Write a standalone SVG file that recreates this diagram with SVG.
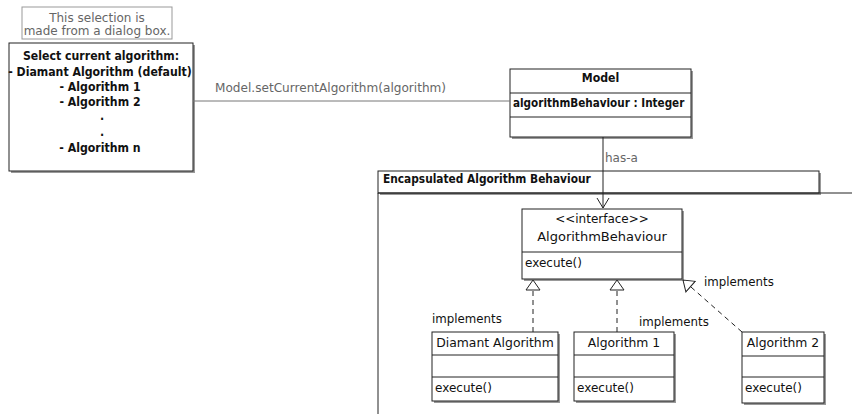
<svg xmlns="http://www.w3.org/2000/svg" width="852" height="414" viewBox="0 0 852 414">
<style>
text{font-family:"DejaVu Sans","Liberation Sans",sans-serif;fill:#111}
.b{font-family:"DejaVu Sans Condensed","DejaVu Sans",sans-serif;font-weight:bold;font-size:12.2px}
.r{font-size:12px}
.g{fill:#666;font-size:12px}
.box{fill:#fff;stroke:#222;stroke-width:1}
.sh{fill:#999}
.ln{stroke:#222;stroke-width:1;fill:none}
.dash{stroke:#222;stroke-width:1;fill:none;stroke-dasharray:5,4}
.c{text-anchor:middle}
</style>
<defs>
<marker id="tri" markerUnits="userSpaceOnUse" markerWidth="14" markerHeight="16" refX="11" refY="8" orient="auto" viewBox="0 0 14 16">
<path d="M1,1 L11,8 L1,15 z" fill="#fff" stroke="#222" stroke-width="1"/>
</marker>
<marker id="open" markerUnits="userSpaceOnUse" markerWidth="12" markerHeight="14" refX="11" refY="7" orient="auto" viewBox="0 0 12 14">
<path d="M1,1 L11,7 L1,13" fill="none" stroke="#222" stroke-width="1"/>
</marker>
</defs>

<g id="note">
<rect x="22" y="7" width="150" height="32" fill="#fff" stroke="#999"/>
<text class="g c" x="97" y="22">This selection is</text>
<text class="g c" x="97" y="35">made from a dialog box.</text>
</g>

<g id="select">
<rect class="sh" x="11" y="45" width="184" height="128"/>
<rect class="box" x="9" y="43" width="184" height="128"/>
<text class="b c" x="101" y="60">Select current algorithm:</text>
<text class="b c" x="100" y="76">- Diamant Algorithm (default)</text>
<text class="b c" x="100" y="91">- Algorithm 1</text>
<text class="b c" x="100" y="106">- Algorithm 2</text>
<text class="b c" x="102" y="120">.</text>
<text class="b c" x="102" y="136">.</text>
<text class="b c" x="100" y="152">- Algorithm n</text>
</g>

<g id="model">
<rect class="sh" x="512" y="71" width="181" height="68"/>
<rect class="box" x="510" y="69" width="181" height="68"/>
<line class="ln" x1="510" y1="93" x2="691" y2="93"/>
<line class="ln" x1="510" y1="117" x2="691" y2="117"/>
<text class="b c" x="600.5" y="82">Model</text>
<text class="b" x="513" y="107" style="font-size:11.6px">algorithmBehaviour : Integer</text>
</g>

<g id="package">
<rect class="sh" x="380" y="173" width="441" height="22"/>
<rect class="box" x="378" y="171" width="441" height="22"/>
<line class="ln" x1="378" y1="193" x2="852" y2="193"/>
<line class="ln" x1="378" y1="193" x2="378" y2="414"/>
<text class="b" x="383" y="183" style="font-size:11.8px">Encapsulated Algorithm Behaviour</text>
</g>

<g id="interface">
<rect class="sh" x="524" y="211" width="160" height="70"/>
<rect class="box" x="522" y="209" width="160" height="70"/>
<line class="ln" x1="522" y1="252" x2="682" y2="252"/>
<text class="r c" x="602" y="223">&lt;&lt;interface&gt;&gt;</text>
<text class="r c" x="602" y="241" style="font-size:13px">AlgorithmBehaviour</text>
<text class="r" x="525" y="267">execute()</text>
</g>

<g id="diamant">
<rect class="sh" x="434" y="334" width="126" height="69"/>
<rect class="box" x="432" y="332" width="126" height="69"/>
<line class="ln" x1="432" y1="355" x2="558" y2="355"/>
<line class="ln" x1="432" y1="377" x2="558" y2="377"/>
<text class="r c" x="495" y="347" style="font-size:12.4px">Diamant Algorithm</text>
<text class="r" x="435" y="392">execute()</text>
</g>

<g id="alg1">
<rect class="sh" x="576" y="334" width="100" height="69"/>
<rect class="box" x="574" y="332" width="100" height="69"/>
<line class="ln" x1="574" y1="355" x2="674" y2="355"/>
<line class="ln" x1="574" y1="377" x2="674" y2="377"/>
<text class="r c" x="624" y="347" style="font-size:12.4px">Algorithm 1</text>
<text class="r" x="577" y="392">execute()</text>
</g>

<g id="alg2">
<rect class="sh" x="744" y="334" width="82" height="71"/>
<rect class="box" x="742" y="332" width="82" height="71"/>
<line class="ln" x1="742" y1="356" x2="824" y2="356"/>
<line class="ln" x1="742" y1="377" x2="824" y2="377"/>
<text class="r c" x="783" y="347" style="font-size:12.4px">Algorithm 2</text>
<text class="r" x="745" y="392">execute()</text>
</g>

<g id="connectors">
<line x1="193" y1="101" x2="510" y2="101" stroke="#777" stroke-width="1"/>
<text class="g" x="215" y="92" style="font-size:12.1px">Model.setCurrentAlgorithm(algorithm)</text>
<line class="ln" x1="603" y1="137" x2="603" y2="208" marker-end="url(#open)"/>
<text class="g" x="605" y="162">has-a</text>
<line class="dash" x1="533" y1="332" x2="533" y2="280" marker-end="url(#tri)"/>
<line class="dash" x1="617" y1="332" x2="617" y2="280" marker-end="url(#tri)"/>
<line class="dash" x1="742" y1="332" x2="683" y2="280" marker-end="url(#tri)"/>
<text class="r" x="432" y="323" style="font-size:11.8px">implements</text>
<text class="r" x="639" y="326" style="font-size:11.8px">implements</text>
<text class="r" x="704" y="286" style="font-size:11.8px">implements</text>
</g>
</svg>
